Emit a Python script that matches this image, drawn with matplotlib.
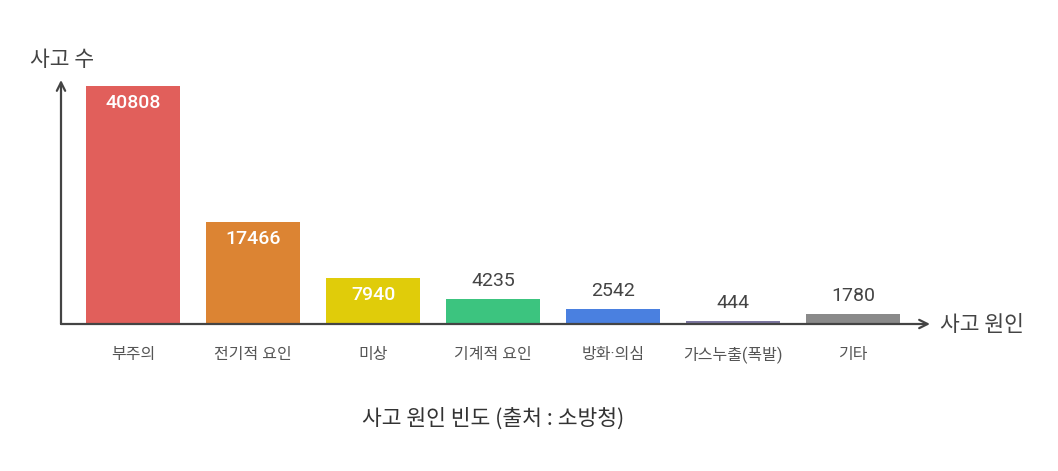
import matplotlib
matplotlib.use('Agg')
import matplotlib.pyplot as plt

# 데이터
categories = ['부주의', '전기적 요인', '미상', '기계적 요인', '방화·의심', '가스누출(폭발)', '기타']
counts = [40808, 17466, 7940, 4235, 2542, 444, 1780]
colors = ['#E15F5B', '#DC8433', '#E0CC0A', '#3CC47F', '#4A80E0', '#7C76A0', '#8A8A8A']
inside = [True, True, True, False, False, False, False]

plt.rcParams['font.family'] = ['Noto Sans CJK KR', 'DejaVu Sans']
num_font = ['Roboto', 'Noto Sans CJK KR']
axis_col = '#444444'

W, H = 1058, 471
fig = plt.figure(figsize=(W / 100, H / 100), dpi=100)
fig.patch.set_facecolor('white')

# 축 영역 (픽셀: x 61~930, y 80~324)
ax = fig.add_axes([61 / W, (H - 324) / H, (930 - 61) / W, (324 - 80) / H])
x = list(range(len(categories)))
ax.bar(x, counts, width=0.78, color=colors, zorder=2)
ax.set_xlim(-0.6, 6.64)
ax.set_ylim(0, 41850)
ax.axis('off')

# 화살표 축
arrow = dict(arrowstyle='->,head_length=0.6,head_width=0.3', color=axis_col, lw=1.6,
             shrinkA=0, shrinkB=0)
ax.annotate('', xy=(0, 1.0), xytext=(0, 0), xycoords='axes fraction',
            arrowprops=arrow, annotation_clip=False)
ax.annotate('', xy=(1.0, 0), xytext=(0, 0), xycoords='axes fraction',
            arrowprops=arrow, annotation_clip=False)

# 값 라벨
for xi, v, ins in zip(x, counts, inside):
    if ins:
        ax.annotate(str(v), (xi, v), xytext=(0, -17), textcoords='offset pixels',
                    ha='center', va='center', color='white', fontsize=14,
                    fontweight='medium', family=num_font)
    else:
        ax.annotate(str(v), (xi, v), xytext=(0, 18), textcoords='offset pixels',
                    ha='center', va='center', color='#444444', fontsize=14,
                    family=num_font)

# 카테고리 라벨
for xi, c in zip(x, categories):
    ax.annotate(c, (xi, 0), xytext=(0, -31), textcoords='offset pixels',
                ha='center', va='center', color='#555555', fontsize=11.5,
                family=num_font)

fig.text(30 / W, 1 - 60 / H, '사고 수', ha='left', va='center', fontsize=15.5, color=axis_col)
fig.text(940 / W, 1 - 325 / H, '사고 원인', ha='left', va='center', fontsize=15.5, color=axis_col)
fig.text(493 / W, 1 - 419 / H, '사고 원인 빈도 (출처 : 소방청)', ha='center', va='center',
         fontsize=15.5, color='#333333')

fig.savefig('out.png', dpi=100)
